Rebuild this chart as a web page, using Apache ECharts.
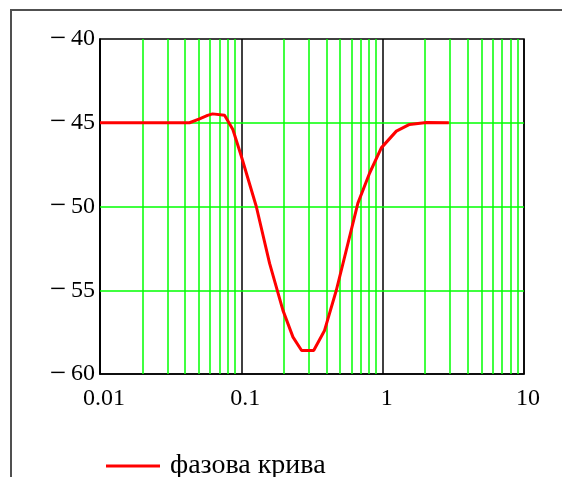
<!DOCTYPE html>
<html>
<head>
<meta charset="utf-8">
<script src="https://cdn.jsdelivr.net/npm/echarts@6/dist/echarts.min.js"></script>
<style>
html,body{margin:0;padding:0;background:#fff;}
#chart{width:562px;height:477px;}
</style>
</head>
<body>
<div id="chart"></div>
<script>
// Frequencies (log scale) and phase values
const freq = [0.01, 0.043, 0.0506, 0.0577, 0.0626, 0.0761, 0.0871, 0.1, 0.1276, 0.1585, 0.197, 0.232, 0.267, 0.325, 0.388, 0.47, 0.553, 0.668, 0.809, 0.978, 1.25, 1.55, 2.04, 2.94];
const phase = [-45.0, -45.0, -44.77, -44.56, -44.47, -44.55, -45.4, -47.0, -50.0, -53.4, -56.2, -57.8, -58.6, -58.6, -57.4, -55.0, -52.6, -49.8, -48.0, -46.5, -45.5, -45.1, -44.98, -45.0];
const seriesName = 'фазова крива';
const minorX = [0.02,0.03,0.04,0.05,0.06,0.07,0.08,0.09,0.2,0.3,0.4,0.5,0.6,0.7,0.8,0.9,2,3,4,5,6,7,8,9];
const minorY = [-45, -50, -55];

const FONT = '"Liberation Serif","Times New Roman",serif';
const chart = echarts.init(document.getElementById('chart'));
const option = {
  animation: false,
  backgroundColor: '#fff',
  graphic: [{
    type: 'rect', silent: true,
    shape: {x: 11, y: 10, width: 620, height: 520},
    style: {fill: 'none', stroke: '#505050', lineWidth: 2}
  }],
  grid: {left: 100, top: 39, width: 424, height: 335, show: true, borderColor: '#000', borderWidth: 1.5, backgroundColor: 'transparent'},
  legend: {
    data: [seriesName], left: 106, top: 452, padding: 0, icon: 'rect', itemWidth: 54, itemHeight: 3,
    textStyle: {fontFamily: FONT, fontSize: 28, color: '#000', padding: [0,0,0,5]}
  },
  xAxis: {
    type: 'log', logBase: 10, min: 0.01, max: 10,
    axisLine: {show: true, lineStyle: {color: '#000', width: 1.5}},
    axisTick: {show: false},
    axisLabel: {fontFamily: FONT, fontSize: 24, color: '#000', margin: 13, padding: [0,0,0,8],
      formatter: v => String(v)},
    splitLine: {show: true, lineStyle: {color: '#000', width: 1.5}},
    minorTick: {show: false}, minorSplitLine: {show: false}
  },
  yAxis: {
    type: 'value', min: -60, max: -40, interval: 5,
    axisLine: {show: true, lineStyle: {color: '#000', width: 1.5}},
    axisTick: {show: false},
    axisLabel: {fontFamily: FONT, fontSize: 24, color: '#000', margin: 5,
      formatter: v => '{m|\u2212}\u2009' + Math.abs(v),
      rich: {m: {fontFamily: FONT, fontSize: 29, color: '#000'}}},
    splitLine: {show: false}
  },
  series: [
    {
      name: 'grid', type: 'line', data: [], z: 1, silent: true,
      markLine: {
        silent: true, symbol: 'none', label: {show: false}, animation: false,
        lineStyle: {color: '#00ff00', width: 1.5, type: 'solid'},
        data: minorX.map(v => ({xAxis: v})).concat(minorY.map(v => ({yAxis: v})))
      }
    },
    {
      name: seriesName, type: 'line', z: 5, symbol: 'none', showSymbol: false,
      lineStyle: {color: '#ff0000', width: 3}, itemStyle: {color: '#ff0000'},
      data: freq.map((f, i) => [f, phase[i]])
    }
  ]
};
chart.setOption(option);
</script>
</body>
</html>
